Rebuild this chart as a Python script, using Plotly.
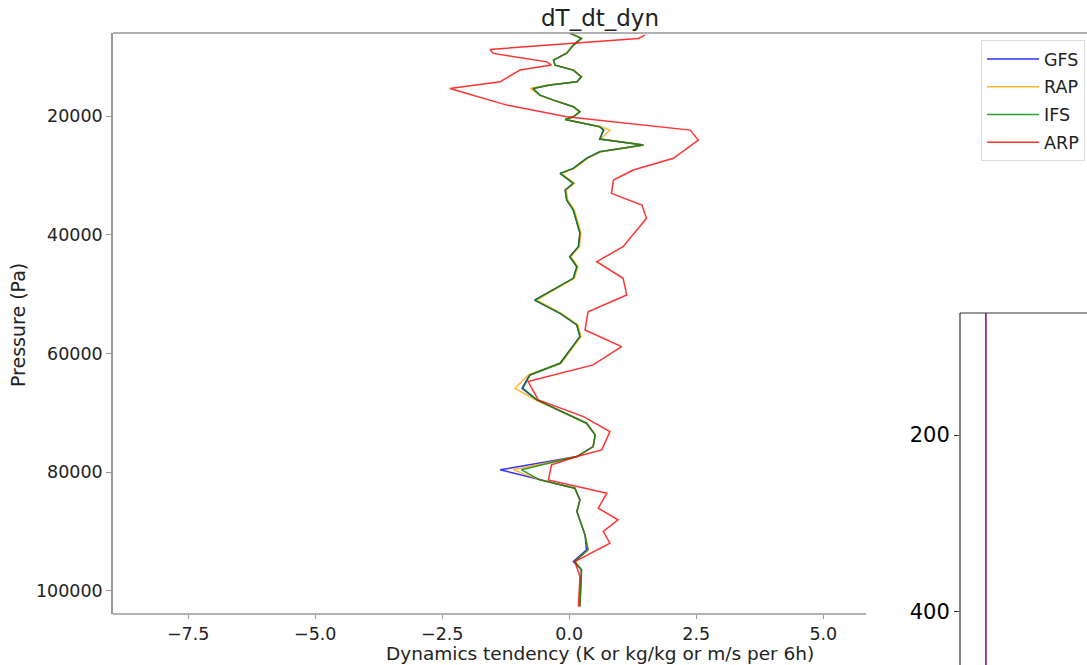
import plotly.graph_objects as go

W, H = 1087, 665

# ---------------- data ----------------
p_gfs_rap_ifs = [6020, 6900, 8040, 9390, 10570, 11410, 12260, 13380, 14220, 14780,
                 15340, 16460, 17310, 18430, 19280, 20120, 20560, 20960, 21800, 22360,
                 23870, 24880, 26010, 27120, 28810, 29650, 31330, 32460, 34150, 35830,
                 39700, 42010, 43690, 45380, 47330, 51000, 53230, 55200, 57170, 61650,
                 63620, 65860, 67830, 71750, 73720, 75690, 77370, 79610, 81300, 82700,
                 84670, 86640, 90560, 93090, 95060, 96450, 102630]
ifs = [0.01, 0.24, 0.08, -0.05, -0.31, -0.28, 0.08, 0.24, 0.15, -0.38,
       -0.71, -0.58, -0.31, 0.08, 0.21, 0.08, -0.08, 0.15, 0.60, 0.67,
       0.60, 1.46, 0.60, 0.34, 0.08, -0.18, 0.08, -0.08, -0.05, 0.08,
       0.21, 0.18, 0.01, 0.15, 0.08, -0.68, -0.18, 0.15, 0.21, -0.18,
       -0.77, -0.91, -0.64, 0.34, 0.51, 0.47, 0.15, -0.94, -0.58, 0.11,
       0.21, 0.15, 0.31, 0.37, 0.11, 0.24, 0.21]
gfs = [0.01, 0.24, 0.08, -0.05, -0.31, -0.28, 0.08, 0.24, 0.15, -0.38,
       -0.72, -0.58, -0.31, 0.08, 0.21, 0.08, -0.08, 0.15, 0.60, 0.68,
       0.60, 1.46, 0.60, 0.34, 0.08, -0.18, 0.08, -0.08, -0.05, 0.08,
       0.21, 0.18, 0.01, 0.15, 0.08, -0.68, -0.18, 0.15, 0.21, -0.18,
       -0.78, -0.93, -0.64, 0.34, 0.51, 0.47, 0.15, -1.36, -0.58, 0.11,
       0.21, 0.15, 0.31, 0.34, 0.08, 0.24, 0.21]
rap = [0.01, 0.24, 0.08, -0.05, -0.31, -0.28, 0.08, 0.24, 0.15, -0.40,
       -0.77, -0.58, -0.31, 0.08, 0.21, 0.08, -0.08, 0.15, 0.62, 0.80,
       0.62, 1.46, 0.62, 0.36, 0.10, -0.16, 0.10, -0.06, -0.03, 0.10,
       0.23, 0.20, 0.03, 0.17, 0.10, -0.64, -0.16, 0.17, 0.23, -0.16,
       -0.80, -1.07, -0.66, 0.34, 0.51, 0.47, 0.15, -1.10, -0.58, 0.11,
       0.21, 0.15, 0.31, 0.37, 0.11, 0.24, 0.21]

p_arp = [6360, 6920, 8770, 9440, 10860, 11410, 12250, 14220, 15340, 18150,
         20120, 22360, 24040, 27120, 29090, 30780, 33020, 34990, 37230, 42010,
         44540, 47330, 50140, 52960, 56040, 58850, 61930, 64740, 67830, 70640,
         73160, 76250, 77370, 78770, 81300, 83540, 86070, 88030, 90000, 91960,
         95060, 97590, 102630]
arp = [1.49, 1.36, -1.56, -1.50, -0.44, -0.35, -0.97, -1.36, -2.35, -1.23,
       -0.05, 2.38, 2.54, 2.05, 1.26, 0.87, 0.83, 1.43, 1.52, 1.06,
       0.54, 1.06, 1.13, 0.37, 0.31, 1.03, 0.47, -0.81, -0.61, 0.28,
       0.80, 0.64, 0.15, -0.35, -0.41, 0.74, 0.57, 0.96, 0.67, 0.80,
       0.11, 0.21, 0.18]

series_names = ["GFS", "RAP", "IFS", "ARP"]
series_colors = ["blue", "orange", "green", "red"]

x_ticks = [-7.5, -5.0, -2.5, 0.0, 2.5, 5.0]
x_ticktext = ["\u22127.5", "\u22125.0", "\u22122.5", "0.0", "2.5", "5.0"]
y_ticks = [20000, 40000, 60000, 80000, 100000]
y_ticktext = ["20000", "40000", "60000", "80000", "100000"]

inset_y_ticks = [200, 400]
inset_x = [0, 0]
inset_y = [62, 460]

# ---------------- layout helpers ----------------
def px_x(x):
    return x / W

def px_y(y):
    return 1 - y / H

FONT = "DejaVu Sans"

fig = go.Figure()
for name, col, xs, ps in zip(series_names, series_colors,
                             [gfs, rap, ifs, arp],
                             [p_gfs_rap_ifs, p_gfs_rap_ifs, p_gfs_rap_ifs, p_arp]):
    fig.add_trace(go.Scatter(x=xs, y=ps, mode="lines", name=name, legendgroup=name,
                             line=dict(color=col, width=1.5), opacity=0.8,
                             xaxis="x", yaxis="y"))

fig.add_trace(go.Scatter(x=inset_x, y=inset_y, mode="lines", showlegend=False,
                         line=dict(color="purple", width=1.5),
                         xaxis="x2", yaxis="y2"))

fig.update_layout(
    width=W, height=H,
    margin=dict(l=0, r=0, t=0, b=0),
    paper_bgcolor="white", plot_bgcolor="white",
    font=dict(family=FONT, color="black", size=17.5),
    showlegend=True,
    legend=dict(x=px_x(1085), y=px_y(40), xanchor="right", yanchor="top",
                bgcolor="white", bordercolor="#dddddd", borderwidth=1,
                font=dict(size=17.5, family=FONT, color="#222222"),
                tracegroupgap=2, itemwidth=52),
    xaxis=dict(domain=[px_x(113), 1], range=[-8.98, 10.19],
               tickvals=x_ticks, ticktext=x_ticktext,
               ticks="outside", ticklen=4, tickcolor="#999999",
               showgrid=False, zeroline=False, showline=False,
               anchor="y", tickfont=dict(size=17.5, color="#222222")),
    yaxis=dict(domain=[px_y(614), px_y(33)], range=[103900, 6000],
               tickvals=y_ticks, ticktext=y_ticktext,
               ticks="outside", ticklen=5, tickcolor="#999999",
               showgrid=False, zeroline=False, showline=True,
               linecolor="#999999", linewidth=1.5, anchor="x",
               tickfont=dict(size=17.5, color="#222222")),
    xaxis2=dict(domain=[px_x(960), 1], range=[-1, 3.9], anchor="y2",
                showticklabels=False, ticks="", showgrid=False,
                zeroline=False, showline=False),
    yaxis2=dict(domain=[0, px_y(313)], range=[460, 62], anchor="x2",
                tickvals=inset_y_ticks, ticks="outside", ticklen=5,
                tickcolor="#333333", showgrid=False, zeroline=False,
                showline=False, tickfont=dict(size=21, color="black")),
)

shapes = [
    # main axes top spine
    dict(type="line", xref="paper", yref="paper", x0=px_x(113), x1=1,
         y0=px_y(33), y1=px_y(33), line=dict(color="#999999", width=1.5)),
    # main axes bottom spine (visible part)
    dict(type="line", xref="paper", yref="paper", x0=px_x(113), x1=px_x(866),
         y0=px_y(614), y1=px_y(614), line=dict(color="#999999", width=1.5)),
    # inset axes spines
    dict(type="line", xref="paper", yref="paper", x0=px_x(960), x1=px_x(960),
         y0=0, y1=px_y(313), line=dict(color="#333333", width=1.2)),
    dict(type="line", xref="paper", yref="paper", x0=px_x(960), x1=1,
         y0=px_y(313), y1=px_y(313), line=dict(color="#333333", width=1.2)),
]
fig.update_layout(shapes=shapes)

fig.add_annotation(text="dT_dt_dyn", xref="paper", yref="paper",
                   x=px_x(600), y=px_y(18), showarrow=False,
                   font=dict(size=23, family=FONT, color="#222222"),
                   xanchor="center", yanchor="middle")
fig.add_annotation(text="Dynamics tendency (K or kg/kg or m/s per 6h)",
                   xref="paper", yref="paper", x=px_x(600), y=px_y(653),
                   showarrow=False, font=dict(size=18.5, family=FONT, color="#222222"),
                   xanchor="center", yanchor="middle")
fig.add_annotation(text="Pressure (Pa)", xref="paper", yref="paper",
                   x=px_x(18), y=px_y(325), showarrow=False, textangle=-90,
                   font=dict(size=19, family=FONT, color="#222222"),
                   xanchor="center", yanchor="middle")

fig.write_html("out.html")
